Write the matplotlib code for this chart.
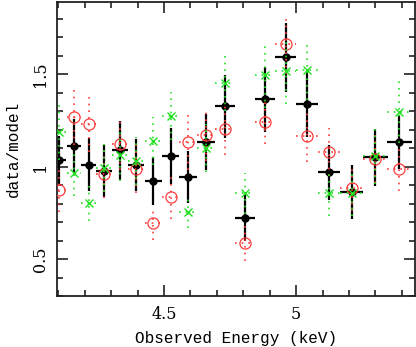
import matplotlib
matplotlib.use('Agg')
import matplotlib.pyplot as plt
from matplotlib.ticker import MultipleLocator

# bin centres (keV) and half widths
energy = [4.102, 4.159, 4.215, 4.274, 4.333, 4.394, 4.459, 4.525, 4.590, 4.659,
          4.731, 4.807, 4.881, 4.961, 5.041, 5.126, 5.211, 5.299, 5.391]
half_width = [0.028, 0.028, 0.028, 0.030, 0.030, 0.032, 0.032, 0.032, 0.034, 0.034,
              0.038, 0.038, 0.038, 0.040, 0.042, 0.042, 0.044, 0.047, 0.048]

# combined (black)
ratio_all = [1.035, 1.111, 1.010, 0.977, 1.089, 1.008, 0.922, 1.058, 0.942, 1.132,
             1.327, 0.722, 1.363, 1.590, 1.338, 0.969, 0.862, 1.050, 1.134]
err_all = [0.13, 0.146, 0.143, 0.14, 0.16, 0.14, 0.13, 0.15, 0.14, 0.15,
           0.17, 0.127, 0.176, 0.185, 0.18, 0.15, 0.147, 0.155, 0.145]

# red circles
ratio_red = [0.873, 1.266, 1.228, 0.958, 1.122, 0.986, 0.693, 0.837, 1.134, 1.170,
             1.201, 0.588, 1.242, 1.662, 1.165, 1.080, 0.882, 1.039, 0.986]
err_red = [0.12, 0.15, 0.15, 0.13, 0.14, 0.13, 0.09, 0.12, 0.15, 0.14,
           0.14, 0.10, 0.12, 0.16, 0.14, 0.13, 0.12, 0.13, 0.12]

# green crosses
ratio_green = [1.188, 0.963, 0.801, 0.990, 1.062, 1.030, 1.138, 1.273, 0.756, 1.098,
               1.450, 0.855, 1.495, 1.518, 1.522, 0.855, 0.855, 1.057, 1.296]
err_green = [0.15, 0.12, 0.094, 0.13, 0.14, 0.13, 0.13, 0.13, 0.09, 0.13,
             0.15, 0.11, 0.18, 0.18, 0.16, 0.12, 0.12, 0.15, 0.17]

fig = plt.figure(figsize=(4.16, 3.47), dpi=100)
ax = fig.add_axes([57 / 416, 51 / 347, 358 / 416, 294 / 347])

ax.errorbar(energy, ratio_all, yerr=err_all, xerr=half_width, fmt='o',
            color='black', ms=5, elinewidth=1.6, capsize=0, zorder=2)

red = ax.errorbar(energy, ratio_red, yerr=err_red, xerr=half_width, fmt='o',
                  mfc='none', mec='#ff3b3b', ecolor='#ff3b3b', ms=8, mew=0.9,
                  elinewidth=1.2, capsize=0, zorder=3)
red[2][0].set_linestyle((0, (1, 3)))
red[2][1].set_linestyle((0, (1, 3)))

green = ax.errorbar(energy, ratio_green, yerr=err_green, xerr=half_width, fmt='x',
                    color='#22e022', ms=6, mew=1.0, elinewidth=1.2, capsize=0,
                    zorder=4)
green[2][0].set_linestyle((0, (1, 3)))
green[2][1].set_linestyle((0, (1, 3)))

ax.set_xlim(4.095, 5.45)
ax.set_ylim(0.3, 1.89)

ax.xaxis.set_major_locator(MultipleLocator(0.5))
ax.xaxis.set_minor_locator(MultipleLocator(0.1))
ax.yaxis.set_major_locator(MultipleLocator(0.5))
ax.yaxis.set_minor_locator(MultipleLocator(0.1))
ax.xaxis.set_major_formatter(plt.FuncFormatter(lambda v, p: '%g' % v))
ax.yaxis.set_major_formatter(plt.FuncFormatter(lambda v, p: '%g' % v))

ax.tick_params(which='both', direction='in', top=True, right=True,
               width=1.2, color='#222222')
ax.tick_params(which='major', length=8)
ax.tick_params(axis='x', which='major', pad=7)
ax.tick_params(axis='y', which='major', pad=6)
ax.tick_params(which='minor', length=4.5)
for s in ax.spines.values():
    s.set_linewidth(1.3)
    s.set_color('#222222')

for lab in ax.get_xticklabels():
    lab.set_family('DejaVu Serif')
    lab.set_fontsize(11.5)
for lab in ax.get_yticklabels():
    lab.set_family('DejaVu Serif')
    lab.set_fontsize(11.5)
    lab.set_rotation(90)
    lab.set_va('center')

ax.set_xlabel('Observed Energy (keV)', family='Liberation Mono', fontsize=11.5,
              va='center')
ax.set_ylabel('data/model', family='Liberation Mono', fontsize=11.5,
              va='center')
ax.xaxis.set_label_coords(0.5, -0.143)
ax.yaxis.set_label_coords(-0.123, 0.5)

plt.savefig('out.png', dpi=100)
